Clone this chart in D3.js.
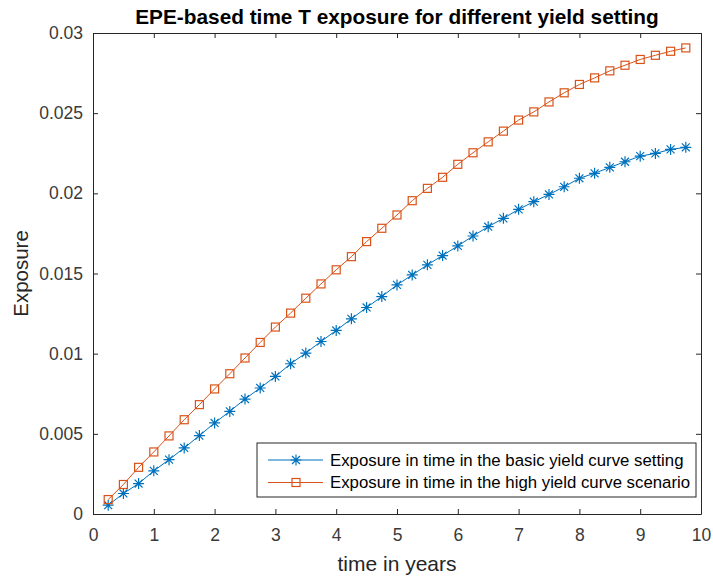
<!DOCTYPE html>
<html>
<head>
<meta charset="utf-8">
<script src="https://cdn.jsdelivr.net/npm/d3@7"></script>
<style>
  html, body { margin: 0; padding: 0; background: #fff; }
  svg { display: block; font-family: "Liberation Sans", Arial, sans-serif; }
</style>
</head>
<body>
<svg id="chart" width="713" height="578"></svg>
<script>
// Time grid (years)
const years = [0.25, 0.5, 0.75, 1, 1.25, 1.5, 1.75, 2, 2.25, 2.5, 2.75, 3, 3.25, 3.5, 3.75,
  4, 4.25, 4.5, 4.75, 5, 5.25, 5.5, 5.75, 6, 6.25, 6.5, 6.75, 7, 7.25, 7.5, 7.75,
  8, 8.25, 8.5, 8.75, 9, 9.25, 9.5, 9.75];

// EPE exposure, basic yield curve
const basicExposure = [0.00055, 0.00128, 0.0019, 0.00269, 0.00339, 0.00412, 0.00489, 0.00568,
  0.0064, 0.00717, 0.00786, 0.00858, 0.00937, 0.01004, 0.01076, 0.01145, 0.01217, 0.01288,
  0.01356, 0.01429, 0.01491, 0.01554, 0.01612, 0.01672, 0.01734, 0.01792, 0.01844, 0.019,
  0.01948, 0.01993, 0.02041, 0.02094, 0.02125, 0.02162, 0.02197, 0.02232, 0.02249, 0.02274,
  0.02287];

// EPE exposure, high yield curve
const highExposure = [0.0009, 0.00184, 0.00291, 0.00387, 0.00487, 0.00588, 0.00682, 0.0078,
  0.00875, 0.00973, 0.0107, 0.01166, 0.01253, 0.01346, 0.01435, 0.01523, 0.01605, 0.01699,
  0.01782, 0.01865, 0.01954, 0.02031, 0.021, 0.02181, 0.02253, 0.02321, 0.02388, 0.02457,
  0.02508, 0.0257, 0.02627, 0.02679, 0.0272, 0.02764, 0.02799, 0.02835, 0.02861, 0.02886,
  0.02907];

const xTicks = [0, 1, 2, 3, 4, 5, 6, 7, 8, 9, 10];
const yTicks = [0, 0.005, 0.01, 0.015, 0.02, 0.025, 0.03];
const yTickLabels = ["0", "0.005", "0.01", "0.015", "0.02", "0.025", "0.03"];

const seriesNames = [
  "Exposure in time in the basic yield curve setting",
  "Exposure in time in the high yield curve scenario"
];
const seriesColors = ["#0072BD", "#D95319"];

const titleText = "EPE-based time T exposure for different yield setting";
const xLabel = "time in years";
const yLabel = "Exposure";

// Layout
const plot = { left: 93, right: 701, top: 33, bottom: 514 };
const axisColor = "#262626";
const tickTextColor = "#3a3a3a";

const svg = d3.select("#chart");

const x = d3.scaleLinear().domain([0, 10]).range([plot.left, plot.right]);
const y = d3.scaleLinear().domain([0, 0.03]).range([plot.bottom, plot.top]);

// Axes: ticks point inward on all four sides
function styleAxis(g) {
  g.selectAll("path.domain").attr("stroke", axisColor).attr("stroke-width", 1);
  g.selectAll(".tick line").attr("stroke", axisColor).attr("stroke-width", 1);
  g.selectAll(".tick text").attr("fill", tickTextColor).attr("font-size", 17.5)
    .attr("font-family", "'Liberation Sans', Arial, sans-serif");
}

svg.append("g")
  .attr("transform", `translate(0,${plot.bottom})`)
  .call(d3.axisBottom(x).tickValues(xTicks).tickFormat(d3.format("d"))
    .tickSizeInner(-5).tickSizeOuter(0).tickPadding(15))
  .call(styleAxis);

svg.append("g")
  .attr("transform", `translate(0,${plot.top})`)
  .call(d3.axisTop(x).tickValues(xTicks).tickFormat("")
    .tickSizeInner(-5).tickSizeOuter(0))
  .call(styleAxis);

svg.append("g")
  .attr("transform", `translate(${plot.left},0)`)
  .call(d3.axisLeft(y).tickValues(yTicks).tickFormat((d, i) => yTickLabels[i])
    .tickSizeInner(-5).tickSizeOuter(0).tickPadding(10))
  .call(styleAxis);

svg.append("g")
  .attr("transform", `translate(${plot.right},0)`)
  .call(d3.axisRight(y).tickValues(yTicks).tickFormat("")
    .tickSizeInner(-5).tickSizeOuter(0))
  .call(styleAxis);

// Series lines and markers
const line = d3.line().x(d => x(d[0])).y(d => y(d[1]));

function asteriskPath(r) {
  const k = r * 0.72;
  return `M${-r},0H${r}M0,${-r}V${r}M${-k},${-k}L${k},${k}M${-k},${k}L${k},${-k}`;
}

function drawMarker(g, kind, color) {
  if (kind === "asterisk") {
    g.append("path").attr("d", asteriskPath(5.5))
      .attr("stroke", color).attr("stroke-width", 1.2).attr("fill", "none");
  } else {
    g.append("rect").attr("x", -4).attr("y", -4).attr("width", 8).attr("height", 8)
      .attr("stroke", color).attr("stroke-width", 1.2).attr("fill", "none");
  }
}

const series = [
  { values: basicExposure, color: seriesColors[0], marker: "asterisk", name: seriesNames[0] },
  { values: highExposure, color: seriesColors[1], marker: "square", name: seriesNames[1] }
];

series.forEach(s => {
  const pts = years.map((t, i) => [t, s.values[i]]);
  svg.append("path")
    .datum(pts)
    .attr("d", line)
    .attr("fill", "none")
    .attr("stroke", s.color)
    .attr("stroke-width", 1);
  const mg = svg.append("g");
  mg.selectAll("g.mk")
    .data(pts)
    .join("g")
    .attr("class", "mk")
    .attr("transform", d => `translate(${x(d[0])},${y(d[1])})`)
    .each(function () { drawMarker(d3.select(this), s.marker, s.color); });
});

// Legend
const legend = svg.append("g").attr("transform", "translate(257,443)");
legend.append("rect")
  .attr("width", 439).attr("height", 54)
  .attr("fill", "#fff").attr("stroke", axisColor).attr("stroke-width", 1);
series.forEach((s, i) => {
  const cy = 17 + i * 22.5;
  legend.append("line")
    .attr("x1", 11).attr("x2", 66).attr("y1", cy).attr("y2", cy)
    .attr("stroke", s.color).attr("stroke-width", 1);
  const m = legend.append("g").attr("transform", `translate(39,${cy})`);
  drawMarker(m, s.marker, s.color);
  legend.append("text")
    .attr("x", 73).attr("y", cy).attr("dy", "0.35em")
    .attr("font-size", 16.8).attr("fill", "#000")
    .text(s.name);
});

// Title and axis labels
svg.append("text")
  .attr("x", (plot.left + plot.right) / 2).attr("y", 24)
  .attr("text-anchor", "middle")
  .attr("font-size", 20.8).attr("font-weight", "bold").attr("fill", "#000")
  .text(titleText);

svg.append("text")
  .attr("x", (plot.left + plot.right) / 2).attr("y", 571)
  .attr("text-anchor", "middle")
  .attr("font-size", 21).attr("fill", axisColor)
  .text(xLabel);

svg.append("text")
  .attr("transform", `translate(28,${(plot.top + plot.bottom) / 2}) rotate(-90)`)
  .attr("text-anchor", "middle")
  .attr("font-size", 20.5).attr("fill", axisColor)
  .text(yLabel);
</script>
</body>
</html>
